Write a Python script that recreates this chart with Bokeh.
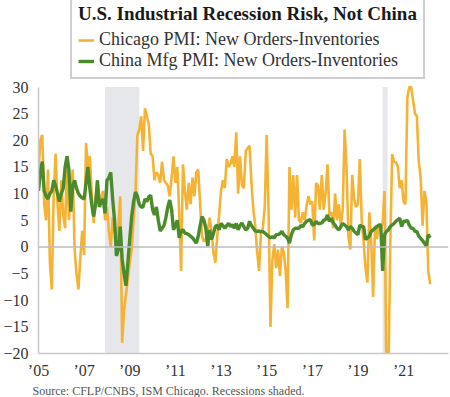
import numpy as np
from bokeh.plotting import figure
from bokeh.models import (ColumnDataSource, Legend, LegendItem,
                          Span, FixedTicker, Range1d, Title)
from bokeh.embed import file_html
from bokeh.resources import INLINE

# ---------------- data (monthly, starting Jan 2005) ----------------
start_year = 2005
chicago = [
    14, 20, 21, 8, 5, 14.5, -3, -8, 10, 17.5, 8, 3,                 # 2005
    12.5, 6, 3.5, 17, 5, 10, 14.5, -0.5, -5, -8, -2, 3,             # 2006
    -1.5, 19.5, 15, 17, 10, 4.5, 9, 12.5, 8, 9.5, 10.5, 5,          # 2007
    7.5, 3, 0, 5.5, 3, 1.5, 4, 9.5, -18, -12, -9, -6,               # 2008
    -3, -0.5, 5, 10, 21, 22, 24.5, 18, 26, 24.5, 23, 17.5,          # 2009
    17, 12.5, 14, 13.5, 12, 16, 12.5, 12, 11.5, 9.5, 13, 17,        # 2010
    12, 15, 6.5, -4.5, 15.5, 10.5, 7, 12, 8, 13, 9.5, 14,           # 2011
    14.5, 8, 2, 1, 1.5, 3, 5.5, 3, -1, -3, 2, 6,                    # 2012
    10.5, 12.5, 11, 16.5, 15, 15.5, 17, 15, 21.5, 10, 17, 11.5,     # 2013
    11, 18, 18.5, 19, 12, 7, 4, -1, -4.5, 2.5, 3.5, 7.5,            # 2014
    21, 7, -15, -2.5, 0.5, -4, -0.5, -5.5, 0, -1, -4.5, -11.5,      # 2015
    15, 7, 13.5, 5.5, 13.5, 5, 4.5, 6.5, 5, 7.8, 9.5, 8,            # 2016
    8.5, 1.2, 12, 11.5, 7, 13.5, 7, 10, 15.5, 6, 6.5, 3.5,          # 2017
    10, 5, 8, 4, 7, 22, 15, 2, -0.5, 13.5, 9, 7.5,                  # 2018
    8, 16.5, 5, 1, -4, -6.7, 6.5, 1, -9.4, 4, 1.5, 4,               # 2019
    3.5, 4.5, 10.5, -25, -25, 0, 17.4, 16, 15.9, 15, 11, 12.5,      # 2020
    8.5, 8, 28, 30, 30, 27.5, 25, 24.5, 16, 13, 4, 10.5,            # 2021
    8.5, -4.5, -7,                                                  # 2022
]
china = [
    10.5, 14, 16, 10.5, 9.5, 9, 10, 10.5, 12.5, 11.5, 10, 8.5,      # 2005
    10, 11, 15, 17, 14.5, 6.6, 11.5, 12.5, 11, 10, 9.5, 9.2,        # 2006
    9, 12, 15, 11, 8, 5.7, 8, 12.5, 7.5, 8.5, 9, 6.3,               # 2007
    12.5, 13, 14, 9, 5, -1.7, -0.5, 3.8, -2.3, -5, -7.3, -3,        # 2008
    1.5, 5.7, 8.5, 10.3, 9.5, 8, 7.5, 7.5, 9, 8.5, 9.4, 9.7,        # 2009
    7, 6, 7.5, 5, 3, 3.5, 4, 5.5, 7.5, 8.8, 7, 3.2,                 # 2010
    4, 5, 1.7, 3, 3.2, 2.6, 2.5, 2.3, 2, 1.7, 1.2, 0.7,             # 2011
    2, 4, 5.7, 5, 3.5, 0.1, 3.2, 1.4, 2.5, 3.8, 4.1, 3.2,           # 2012
    4.4, 4, 3.5, 4, 4.4, 3.8, 4.2, 3.5, 4.4, 3.2, 4, 4.5,           # 2013
    3.8, 3.2, 3.5, 4.8, 4, 3.5, 3, 2.9, 3, 2.8, 2.9, 2.6,           # 2014
    2.3, 2, 1.7, 1.9, 1.7, 2.3, 2.3, 2.5, 2.9, 2.3, 2, 1.7,         # 2015
    0.7, 2.3, 3.2, 3.5, 3.5, 3.5, 4, 3.8, 4.4, 4.8, 5, 5.1,         # 2016
    4.1, 4.2, 4.8, 4.4, 4.4, 4.5, 5, 5.1, 6, 4.8, 5.4, 4.5,         # 2017
    4.1, 3.5, 3.2, 3.8, 4.4, 4.1, 3.8, 3.2, 3.8, 3.5, 2.9, 2.6,     # 2018
    2.3, 4.1, 3.8, 3.8, 1.4, 1.7, 2, 2.9, 3.2, 3.5, 3.8, 4.1,       # 2019
    4.1, -4.5, 2.3, 2.9, 3.2, 3.8, 4.1, 4.4, 4.8, 5.1, 5.4, 3.8,    # 2020
    4.8, 4.8, 5, 4.1, 3.5, 3.5, 2.9, 2.9, 2, 1.6, 1.2, 0.7,         # 2021
    0.1, 2.3, 1.7,                                                  # 2022
]
tick_years = [2005, 2007, 2009, 2011, 2013, 2015, 2017, 2019, 2021]
tick_labels = ["\u201905", "\u201907", "\u201909", "\u201911", "\u201913",
               "\u201915", "\u201917", "\u201919", "\u201921"]
y_ticks = [-20, -15, -10, -5, 0, 5, 10, 15, 20, 25, 30]
y_min, y_max = -20, 30
rec_start = [2007.917, 2020.083]
rec_end = [2009.42, 2020.3]

title_text = "U.S. Industrial Recession Risk, Not China"
name_chicago = "Chicago PMI: New Orders-Inventories"
name_china = "China Mfg PMI: New Orders-Inventories"
source_text = "Source:  CFLP/CNBS, ISM Chicago. Recessions shaded."

# ---------------- figure ----------------
FONT = "Liberation Serif"
ORANGE = "#F5B335"
GREEN = "#4C8B2B"

x = [start_year + i / 12 for i in range(len(chicago))]
src = ColumnDataSource(dict(x=x, chicago=chicago, china=china))

# frame reaches the top of the canvas; the headroom above 30 holds the legend box
p = figure(width=450, height=397, output_backend="svg", toolbar_location=None,
           x_range=Range1d(2005, 2022.97), y_range=Range1d(y_min, 46.23),
           min_border_left=33, min_border_right=2, min_border_top=0,
           min_border_bottom=42)
p.outline_line_color = None
p.xgrid.visible = False
p.ygrid.visible = False
p.background_fill_color = "white"
p.border_fill_color = "white"

for a, b in zip(rec_start, rec_end):
    p.quad(left=[a], right=[b], bottom=[y_min], top=[y_max],
           fill_color="#E6E7EA", line_color=None, level="underlay")

p.add_layout(Span(location=0, dimension="width", line_color="#BDBDBD",
                  line_width=1.5))

r1 = p.line("x", "chicago", source=src, line_color=ORANGE, line_width=2.6)
r2 = p.line("x", "china", source=src, line_color=GREEN, line_width=3.4)

# axes
for ax in (p.xaxis[0], p.yaxis[0]):
    ax.axis_line_color = "#C8C8C8"
    ax.axis_line_width = 1.5
    ax.major_tick_line_color = None
    ax.minor_tick_line_color = None
    ax.major_tick_out = 0
    ax.major_tick_in = 0
    ax.minor_tick_out = 0
    ax.minor_tick_in = 0
    ax.major_label_text_font = FONT
    ax.major_label_text_font_size = "16px"
    ax.major_label_text_color = "#333333"

p.yaxis.ticker = FixedTicker(ticks=y_ticks)
p.yaxis.bounds = (y_min, y_max)
p.yaxis.major_label_standoff = 10
p.xaxis.ticker = FixedTicker(ticks=tick_years)
p.xaxis.major_label_overrides = {yr: lab for yr, lab in zip(tick_years, tick_labels)}
p.xaxis.major_label_standoff = 8

# legend box with title (bottom-left corner in px from the frame's bottom-left)
legend = Legend(items=[LegendItem(label=name_chicago, renderers=[r1]),
                       LegendItem(label=name_china, renderers=[r2])],
                title=title_text, location=(32, 274), orientation="vertical")
legend.title_text_font = FONT
legend.title_text_font_style = "bold"
legend.title_text_font_size = "19px"
legend.title_text_color = "#1A1A1A"
legend.title_standoff = 4
legend.label_text_font = FONT
legend.label_text_font_size = "18px"
legend.label_text_color = "#333333"
legend.glyph_width = 16
legend.glyph_height = 20
legend.label_height = 20
legend.label_standoff = 5
legend.spacing = 0
legend.padding = 6
legend.margin = 0
legend.border_line_color = "#A0A0A0"
legend.border_line_width = 2
legend.background_fill_alpha = 1
p.add_layout(legend)

p.add_layout(Title(text=source_text, align="left", offset=-6, standoff=0,
                   text_font=FONT, text_font_size="12px",
                   text_font_style="normal", text_color="#555555"), "below")

open("out.html", "w").write(file_html(p, INLINE))
